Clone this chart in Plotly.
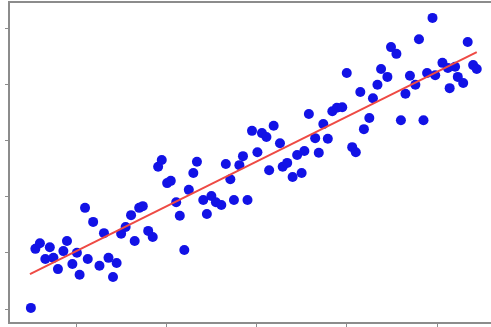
import plotly.graph_objects as go

# Sample observations (x, y)
x_vals = [
    0.50, 0.55, 0.60, 0.71, 0.66, 0.75, 0.86, 0.90, 0.80, 0.96,
    1.01, 1.04, 1.13, 1.10, 1.19, 1.26, 1.31, 1.36, 1.41, 1.45,
    1.50, 1.55, 1.61, 1.65, 1.70, 1.74, 1.80, 1.85, 1.91, 1.95,
    2.01, 2.05, 2.11, 2.15, 2.20, 2.25, 2.30, 2.34, 2.41, 2.45,
    2.50, 2.55, 2.61, 2.66, 2.71, 2.75, 2.81, 2.90, 2.85, 2.95,
    3.01, 3.06, 3.11, 3.14, 3.19, 3.26, 3.29, 3.34, 3.40, 3.45,
    3.50, 3.53, 3.58, 3.65, 3.69, 3.74, 3.79, 3.84, 3.89, 3.95,
    4.00, 4.06, 4.10, 4.15, 4.19, 4.25, 4.29, 4.34, 4.38, 4.45,
    4.49, 4.55, 4.60, 4.65, 4.70, 4.76, 4.80, 4.85, 4.89, 4.95,
    4.98, 5.06, 5.12, 5.14, 5.20, 5.23, 5.29, 5.34, 5.40, 5.44,
]
y_vals = [
    0.02, 1.07, 1.17, 1.10, 0.89, 0.91, 1.03, 1.21, 0.71, 0.80,
    1.00, 0.61, 0.89, 1.80, 1.55, 0.77, 1.35, 0.91, 0.57, 0.82,
    1.34, 1.46, 1.67, 1.21, 1.80, 1.83, 1.39, 1.28, 2.53, 2.65,
    2.24, 2.28, 1.90, 1.66, 1.05, 2.12, 2.42, 2.62, 1.94, 1.69,
    2.01, 1.90, 1.85, 2.58, 2.31, 1.94, 2.56, 1.94, 2.72, 3.17,
    2.79, 3.13, 3.06, 2.47, 3.26, 2.95, 2.53, 2.60, 2.35, 2.74,
    2.42, 2.81, 3.47, 3.04, 2.78, 3.29, 3.03, 3.52, 3.58, 3.59,
    4.20, 2.88, 2.79, 3.86, 3.20, 3.40, 3.75, 3.99, 4.27, 4.13,
    4.66, 4.54, 3.36, 3.83, 4.15, 3.99, 4.80, 3.36, 4.20, 5.18,
    4.16, 4.38, 4.29, 3.93, 4.31, 4.13, 4.02, 4.75, 4.34, 4.27,
]

# Fitted regression line endpoints
fit_x = [0.49, 5.44]
fit_y = [0.62, 4.57]

x_ticks = [1, 2, 3, 4, 5]
y_ticks = [0, 1, 2, 3, 4, 5]

fig = go.Figure()
fig.add_trace(go.Scatter(
    x=x_vals, y=y_vals, mode="markers",
    marker=dict(size=10, color="#1212e6", line=dict(width=0)),
    showlegend=False,
))
fig.add_trace(go.Scatter(
    x=fit_x, y=fit_y, mode="lines",
    line=dict(color="#ee4a44", width=2),
    showlegend=False,
))

axis_style = dict(
    showgrid=False, zeroline=False, showline=True,
    linecolor="#8c8c8c", linewidth=2,
    ticks="outside", ticklen=3, tickwidth=1, tickcolor="#8c8c8c",
    showticklabels=False,
)
fig.update_xaxes(range=[0.2687, 5.598], tickvals=x_ticks, mirror=True, **axis_style)
fig.update_yaxes(range=[-0.2313, 5.4448], tickvals=y_ticks, mirror=False, **axis_style)

fig.update_layout(
    width=491, height=327,
    margin=dict(l=10, r=0, t=3, b=5),
    plot_bgcolor="white", paper_bgcolor="white",
)

fig.write_html("out.html")
